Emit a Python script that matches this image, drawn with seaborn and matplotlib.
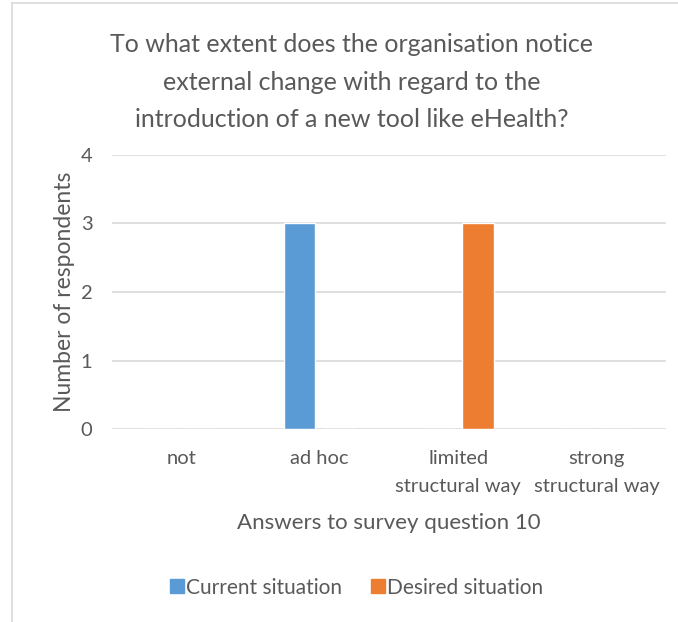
import matplotlib
matplotlib.use("Agg")
import matplotlib.pyplot as plt
import seaborn as sns
import pandas as pd
from matplotlib.lines import Line2D

categories = ["not", "ad hoc", "limited\nstructural way", "strong\nstructural way"]
current_situation = [0, 3, 0, 0]
desired_situation = [0, 0, 3, 0]
series_names = ["Current situation", "Desired situation"]
y_ticks = [0, 1, 2, 3, 4]

df = pd.DataFrame({
    "answer": categories * 2,
    "respondents": current_situation + desired_situation,
    "series": [series_names[0]] * 4 + [series_names[1]] * 4,
})

sns.set_theme(style="white")
plt.rcParams["font.family"] = ["Lato", "DejaVu Sans"]
text_color = "#595959"

fig = plt.figure(figsize=(6.78, 6.22), dpi=100)
ax = fig.add_axes([0.165, 0.310, 0.817, 0.441])

palette = {series_names[0]: "#5B9BD5", series_names[1]: "#ED7D31"}
sns.barplot(data=df, x="answer", y="respondents", hue="series", order=categories,
            hue_order=series_names, palette=palette, width=0.58, gap=0.22,
            saturation=1, ax=ax, legend=False)

ax.set_ylim(0, 4)
ax.set_yticks(y_ticks)
ax.set_xlim(-0.5, 3.5)
ax.grid(axis="y", color="#D9D9D9", linewidth=1.2)
ax.set_axisbelow(True)
for s in ax.spines.values():
    s.set_visible(False)
ax.tick_params(axis="both", length=0, labelsize=14.5, colors=text_color)
ax.tick_params(axis="x", pad=15)
ax.tick_params(axis="y", pad=14)
for lbl in ax.get_xticklabels():
    lbl.set_linespacing(1.75)

ax.set_xlabel("Answers to survey question 10", fontsize=16, color=text_color, labelpad=13)
ax.set_ylabel("Number of respondents", fontsize=16.5, color=text_color, labelpad=4)

fig.text(0.519, 0.868,
         "To what extent does the organisation notice\nexternal change with regard to the\nintroduction of a new tool like eHealth?",
         ha="center", va="center", fontsize=18, color=text_color, linespacing=1.75)

handles = [Line2D([], [], marker="s", linestyle="none", markersize=10,
                  markerfacecolor=palette[n], markeredgecolor=palette[n]) for n in series_names]
fig.legend(handles, series_names, loc="center", bbox_to_anchor=(0.525, 0.055), ncol=2,
           frameon=False, fontsize=15, labelcolor=text_color, handletextpad=0.05,
           columnspacing=1.3, handlelength=0.8)

# thin frame lines along the chart area's left and top edges
fig.add_artist(Line2D([0.017, 0.017], [0, 0.995], transform=fig.transFigure, color="#D9D9D9", linewidth=1.2))
fig.add_artist(Line2D([0.017, 1.0], [0.995, 0.995], transform=fig.transFigure, color="#D9D9D9", linewidth=1.2))

fig.savefig("out.png", dpi=100, facecolor="white")
